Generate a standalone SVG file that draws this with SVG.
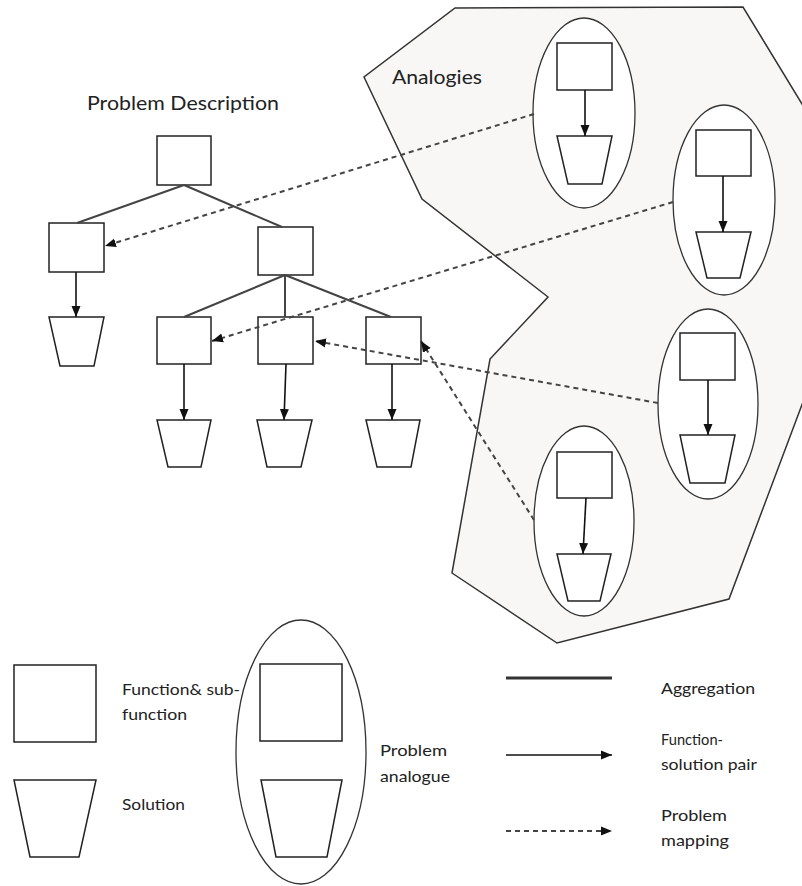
<svg xmlns="http://www.w3.org/2000/svg" width="802" height="886" viewBox="0 0 802 886">
<style>
.box{fill:#fff;stroke:#222;stroke-width:1.5}
.sol{fill:#fff;stroke:#222;stroke-width:1.5}
.ell{fill:#fff;stroke:#333;stroke-width:1.3}
.agg{fill:none;stroke:#444;stroke-width:2}
.pair{fill:none;stroke:#111;stroke-width:1.6;marker-end:url(#ah)}
.map{fill:none;stroke:#444;stroke-width:2;stroke-dasharray:5 4;marker-end:url(#ahd)}
text{font-family:Lato,"Liberation Sans",sans-serif;fill:#222}
.lg{font-size:16px}
</style>
<defs>
<marker id="ah" markerUnits="userSpaceOnUse" markerWidth="12" markerHeight="12" viewBox="0 0 12 12" refX="11" refY="6" orient="auto">
<path d="M0,1.5 L11,6 L0,10.5 Z" fill="#111"/>
</marker>
<marker id="ahd" markerUnits="userSpaceOnUse" markerWidth="12" markerHeight="12" viewBox="0 0 12 12" refX="11" refY="6" orient="auto">
<path d="M0,1.5 L11,6 L0,10.5 Z" fill="#111"/>
</marker>
</defs>

<g id="analogies-region">
<path d="M455,8 L743,7 L830,150 L830,330 L729,599 L557,643 L452,573 L490,359 L548,297 L422,199 L364,77 Z" fill="#f8f7f5" stroke="#333" stroke-width="1.5"/>
<text x="392" y="84" font-size="19" textLength="90" lengthAdjust="spacingAndGlyphs">Analogies</text>
</g>

<text id="title" x="87" y="110" font-size="19" textLength="192" lengthAdjust="spacingAndGlyphs">Problem Description</text>

<g id="analogue1">
<ellipse class="ell" cx="584" cy="113" rx="51" ry="95"/>
<rect class="box" x="557" y="43" width="55" height="47"/>
<path class="sol" d="M557,136 L612,136 L602,184 L568,184 Z"/>
<line class="pair" x1="585" y1="90" x2="585" y2="136"/>
</g>
<g id="analogue2">
<ellipse class="ell" cx="724" cy="200" rx="51" ry="95"/>
<rect class="box" x="696" y="130" width="55" height="46"/>
<path class="sol" d="M696,232 L751,232 L740,278 L707,278 Z"/>
<line class="pair" x1="723" y1="176" x2="723" y2="232"/>
</g>
<g id="analogue3">
<ellipse class="ell" cx="708" cy="404" rx="50" ry="95"/>
<rect class="box" x="680" y="333" width="55" height="47"/>
<path class="sol" d="M680,435 L735,435 L725,483 L690,483 Z"/>
<line class="pair" x1="708" y1="380" x2="708" y2="435"/>
</g>
<g id="analogue4">
<ellipse class="ell" cx="584" cy="521" rx="50" ry="95"/>
<rect class="box" x="557" y="452" width="55" height="46"/>
<path class="sol" d="M557,554 L611,554 L600,601 L568,601 Z"/>
<line class="pair" x1="586" y1="498" x2="583" y2="554"/>
</g>

<g id="f0"><rect class="box" x="157" y="136" width="54" height="49"/></g>
<g id="f1"><rect class="box" x="49" y="223" width="55" height="49"/></g>
<g id="f2"><rect class="box" x="258" y="227" width="55" height="48"/></g>
<g id="s1"><path class="sol" d="M49,317 L104,317 L94,366 L60,366 Z"/></g>
<g id="f21"><rect class="box" x="157" y="317" width="54" height="47"/></g>
<g id="f22"><rect class="box" x="258" y="317" width="55" height="47"/></g>
<g id="f23"><rect class="box" x="366" y="317" width="55" height="47"/></g>
<g id="s21"><path class="sol" d="M157,420 L211,420 L201,467 L168,467 Z"/></g>
<g id="s22"><path class="sol" d="M257,420 L312,420 L301,467 L267,467 Z"/></g>
<g id="s23"><path class="sol" d="M366,420 L420,420 L411,467 L377,467 Z"/></g>

<g id="connectors">
<line class="agg" x1="184" y1="185" x2="77" y2="223"/>
<line class="agg" x1="184" y1="185" x2="282" y2="227"/>
<line class="agg" x1="285" y1="275" x2="184" y2="317"/>
<line class="agg" x1="285" y1="275" x2="285" y2="317"/>
<line class="agg" x1="285" y1="275" x2="391" y2="317"/>
<line class="pair" x1="76" y1="272" x2="76" y2="317"/>
<line class="pair" x1="184" y1="364" x2="184" y2="420"/>
<line class="pair" x1="286" y1="364" x2="284" y2="420"/>
<line class="pair" x1="392" y1="364" x2="392" y2="420"/>
<line class="map" x1="534" y1="114" x2="105" y2="246"/>
<line class="map" x1="673" y1="202" x2="212" y2="341"/>
<line class="map" x1="658" y1="403" x2="315" y2="341"/>
<line class="map" x1="534" y1="520" x2="421" y2="341" stroke-width="1.6"/>
</g>

<g id="legend">
<rect class="box" x="14" y="665" width="82" height="77"/>
<path class="sol" d="M14,780 L96,780 L79,857 L30,857 Z"/>
<text class="lg" x="122" y="695" textLength="118" lengthAdjust="spacingAndGlyphs">Function&amp; sub-</text>
<text class="lg" x="122" y="720" textLength="65" lengthAdjust="spacingAndGlyphs">function</text>
<text class="lg" x="122" y="810" textLength="63" lengthAdjust="spacingAndGlyphs">Solution</text>
<ellipse class="ell" cx="301" cy="752" rx="65" ry="132"/>
<rect class="box" x="260" y="664" width="82" height="77"/>
<path class="sol" d="M261,780 L342,780 L327,857 L276,857 Z"/>
<text class="lg" x="380" y="756" textLength="67" lengthAdjust="spacingAndGlyphs">Problem</text>
<text class="lg" x="380" y="782" textLength="70" lengthAdjust="spacingAndGlyphs">analogue</text>
<line x1="506" y1="678" x2="612" y2="678" stroke="#333" stroke-width="3"/>
<text class="lg" x="661" y="694" textLength="94" lengthAdjust="spacingAndGlyphs">Aggregation</text>
<line class="pair" x1="506" y1="755" x2="612" y2="755"/>
<text class="lg" x="661" y="745" textLength="62" lengthAdjust="spacingAndGlyphs">Function-</text>
<text class="lg" x="661" y="770" textLength="96" lengthAdjust="spacingAndGlyphs">solution pair</text>
<line class="map" x1="506" y1="831" x2="612" y2="831" stroke-width="1.6"/>
<text class="lg" x="661" y="821" textLength="66" lengthAdjust="spacingAndGlyphs">Problem</text>
<text class="lg" x="661" y="846" textLength="68" lengthAdjust="spacingAndGlyphs">mapping</text>
</g>
</svg>
